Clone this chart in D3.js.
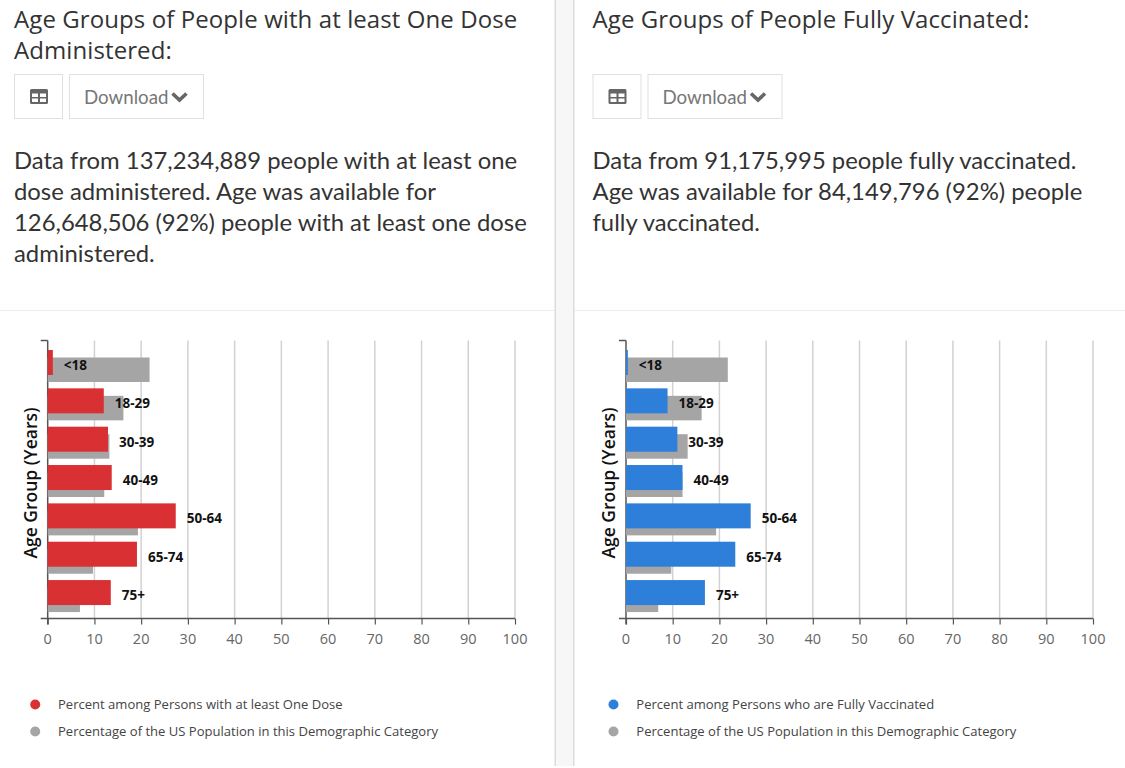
<!DOCTYPE html>
<html><head><meta charset="utf-8">
<style>
html,body{margin:0;padding:0;background:#fff;overflow:hidden}
svg{display:block}
</style>
<script src="https://cdn.jsdelivr.net/npm/d3@7/dist/d3.min.js"></script>
</head><body><svg id="c" width="1125" height="768"></svg>
<script>
const ageGroups = ["<18","18-29","30-39","40-49","50-64","65-74","75+"];
const oneDoseValues = [1.1,12,12.9,13.7,27.4,19.1,13.5];
const fullyVaccinatedValues = [0.4,8.9,11,12.1,26.7,23.4,16.9];
const populationValues = [21.8,16.2,13.2,12.1,19.3,9.7,6.9];
const xTicks = [0,10,20,30,40,50,60,70,80,90,100];
const populationLabel = "Percentage of the US Population in this Demographic Category";

const leftHeadings = ["Age Groups of People with at least One Dose","Administered:"];
const rightHeadings = ["Age Groups of People Fully Vaccinated:"];
const leftParagraph = ["Data from 137,234,889 people with at least one","dose administered. Age was available for","126,648,506 (92%) people with at least one dose","administered."];
const rightParagraph = ["Data from 91,175,995 people fully vaccinated.","Age was available for 84,149,796 (92%) people","fully vaccinated."];

const svg = d3.select("#c");
svg.append("rect").attr("x",556).attr("y",0).attr("width",17).attr("height",766).attr("fill","#f7f7f7");
svg.append("rect").attr("x",554.5).attr("y",0).attr("width",1.5).attr("height",766).attr("fill","#dcdcdc");
svg.append("rect").attr("x",573).attr("y",0).attr("width",1.5).attr("height",766).attr("fill","#dcdcdc");
svg.append("rect").attr("x",0).attr("y",310).attr("width",554).attr("height",1).attr("fill","#ececec");
svg.append("rect").attr("x",574).attr("y",310).attr("width",551).attr("height",1).attr("fill","#ececec");

function panel(o){
  const g = svg.append("g");
  g.selectAll("text.h").data(o.headings).join("text").attr("class","h")
    .attr("x",o.textX).attr("y",(d,i)=>28+i*31)
    .attr("font-family","Open Sans").attr("font-size",24).attr("letter-spacing",0.09).attr("fill","#333").text(d=>d);
  g.selectAll("text.p").data(o.paragraph).join("text").attr("class","p")
    .attr("x",o.textX).attr("y",(d,i)=>169+i*31)
    .attr("font-family","Lato").attr("font-size",23.85).attr("fill","#333").text(d=>d);
  // buttons
  const b = g.append("g").attr("transform",`translate(${o.textX},0)`);
  b.append("rect").attr("x",.5).attr("y",74.5).attr("width",48).attr("height",44).attr("fill","#fff").attr("stroke","#e0e0e0");
  b.append("rect").attr("x",55.5).attr("y",74.5).attr("width",o.dlW).attr("height",44).attr("fill","#fff").attr("stroke","#e0e0e0");
  b.append("path").attr("fill-rule","evenodd").attr("fill","#666")
   .attr("d","M17.5 89h15q1.5 0 1.5 1.500v12q0 1.500-1.500 1.500h-15q-1.500 0-1.500-1.500v-12q0-1.500 1.500-1.500zM18 93.500v3.500h6v-3.500zM26 93.500v3.500h6v-3.500zM18 98.500v3.500h6v-3.500zM26 98.500v3.500h6v-3.500z");
  b.append("text").attr("x",70).attr("y",103.500).attr("font-family","Lato").attr("font-size",18.7).attr("fill","#777").text("Download");
  b.append("path").attr("fill","none").attr("stroke","#666").attr("stroke-width",3.600)
   .attr("d",`M${o.chevX} 93.500l7 6.500 7-6.500`);

  const x = d3.scaleLinear().domain([0,100]).range([o.x0,o.x100]);
  const y = d3.scaleBand().domain(ageGroups).range([345,613.4]);
  const gridTop=340.5, axisY=618.500;
  // grid
  g.append("g").selectAll("line").data(xTicks.slice(1)).join("line")
    .attr("x1",d=>x(d)).attr("x2",d=>x(d)).attr("y1",gridTop).attr("y2",axisY)
    .attr("stroke","#d2d2d2").attr("stroke-width",1.500);
  // axes
  const ax = g.append("g").attr("transform",`translate(0,${axisY})`)
    .call(d3.axisBottom(x).tickValues(xTicks).tickSize(6).tickPadding(9));
  ax.selectAll("path").remove();
  ax.selectAll("line").attr("stroke","#555").attr("stroke-width",1.200);
  ax.selectAll("text").attr("font-family","Open Sans").attr("font-size",14.500).attr("fill","#666").attr("dx",-0.5);
  g.append("line").attr("x1",x(0)-7).attr("x2",x(100)).attr("y1",axisY).attr("y2",axisY).attr("stroke","#555").attr("stroke-width",1.500);
  g.append("line").attr("x1",x(0)).attr("x2",x(0)).attr("y1",gridTop).attr("y2",axisY+6).attr("stroke","#555").attr("stroke-width",1.500);
  g.append("line").attr("x1",x(0)-7).attr("x2",x(0)).attr("y1",gridTop).attr("y2",gridTop).attr("stroke","#555").attr("stroke-width",1.500);
  // pop bars
  g.append("g").selectAll("rect").data(populationValues).join("rect")
    .attr("x",x(0)).attr("y",(d,i)=>y(ageGroups[i])+12.500).attr("height",24.500)
    .attr("width",d=>x(d)-x(0)).attr("fill","#a5a5a5");
  // primary bars
  g.append("g").selectAll("rect").data(o.values).join("rect")
    .attr("x",x(0)).attr("y",(d,i)=>y(ageGroups[i])+5).attr("height",25)
    .attr("width",d=>x(d)-x(0)).attr("fill",o.color);
  // labels
  g.append("g").selectAll("text").data(o.values).join("text")
    .attr("x",d=>x(d)+11).attr("y",(d,i)=>y(ageGroups[i])+25)
    .attr("font-family","Open Sans").attr("font-weight",700).attr("font-size",13.500).attr("fill","#111")
    .text((d,i)=>ageGroups[i]);
  g.append("text").attr("transform",`translate(${o.x0-10.5-o.yLabelShift},${483}) rotate(-90)`).attr("text-anchor","middle")
    .attr("font-family","Open Sans").attr("font-weight",600).attr("font-size",17.500).attr("fill","#111").text("Age Group (Years)");
  // legend
  const items=[[o.legend,o.color,704],[populationLabel,"#a5a5a5",731]];
  const l=g.append("g");
  l.selectAll("circle").data(items).join("circle").attr("cx",o.x0-12.500).attr("cy",d=>d[2]+.5).attr("r",5).attr("fill",d=>d[1]);
  l.selectAll("text").data(items).join("text").attr("x",o.x0+10.300).attr("y",d=>d[2]+4.500)
    .attr("font-family","Open Sans").attr("font-size",13.050).attr("fill","#444").text(d=>d[0]);
}
panel({headings:leftHeadings,paragraph:leftParagraph,textX:14,dlW:134,chevX:158.5,x0:47.7,x100:515,yLabelShift:0,values:oneDoseValues,color:"#d93033",legend:"Percent among Persons with at least One Dose"});
panel({headings:rightHeadings,paragraph:rightParagraph,textX:592.500,dlW:134,chevX:158.5,x0:626,x100:1093,yLabelShift:1,values:fullyVaccinatedValues,color:"#2e7fd9",legend:"Percent among Persons who are Fully Vaccinated"});
</script></body></html>
